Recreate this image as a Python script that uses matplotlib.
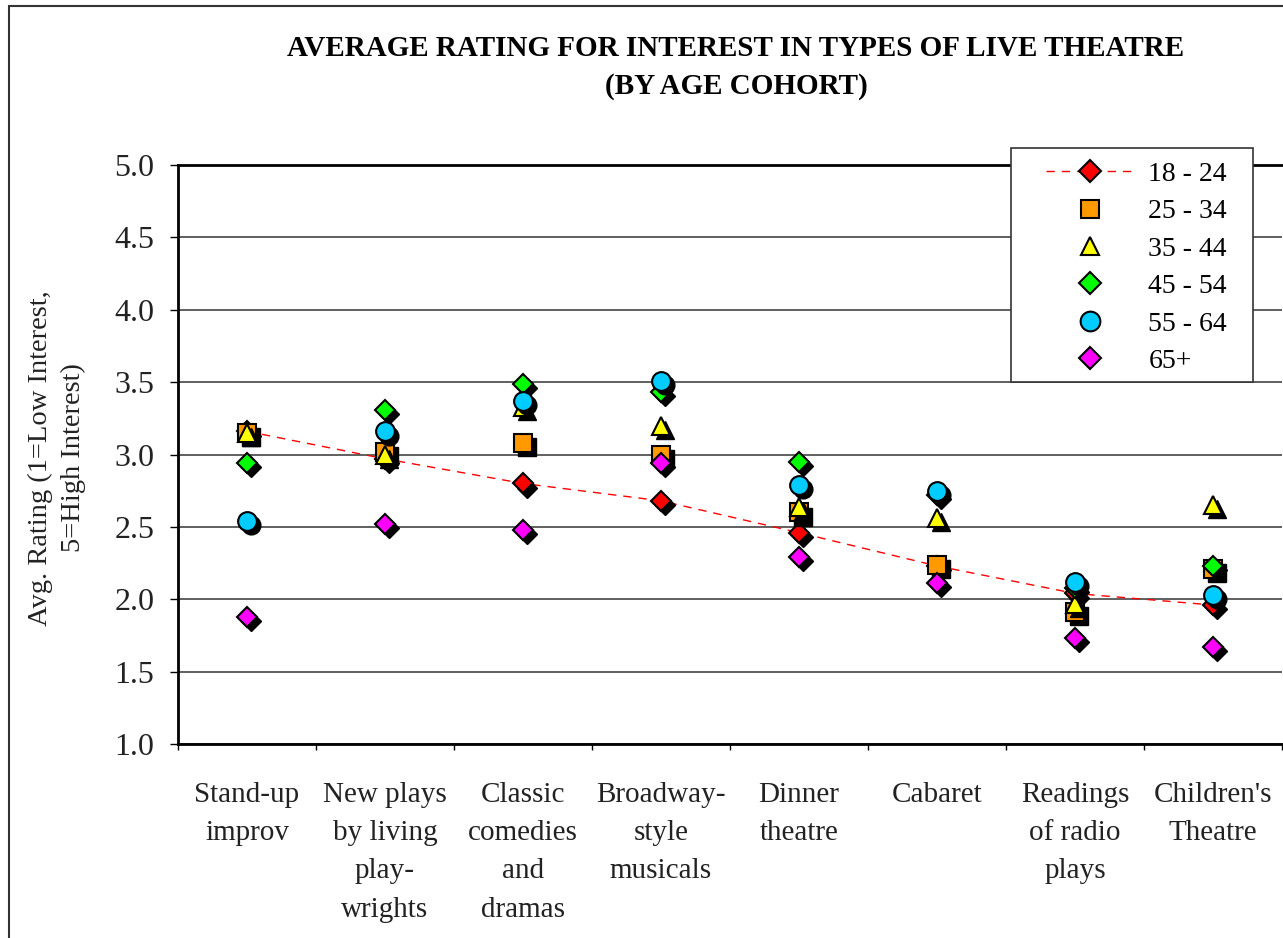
import numpy as np
import matplotlib
matplotlib.use("Agg")
import matplotlib.pyplot as plt
from matplotlib import transforms
from matplotlib.patches import Rectangle

plt.rcParams['font.family'] = ['Liberation Serif', 'DejaVu Serif']

# data
categories = ["Stand-up\nimprov", "New plays\nby living\nplay-\nwrights",
              "Classic\ncomedies\nand\ndramas", "Broadway-\nstyle\nmusicals",
              "Dinner\ntheatre", "Cabaret", "Readings\nof radio\nplays",
              "Children's\nTheatre"]
cohorts = ["18 - 24", "25 - 34", "35 - 44", "45 - 54", "55 - 64", "65+"]
age_18_24 = [3.16, 2.97, 2.80, 2.68, 2.46, 2.23, 2.04, 1.96]
age_25_34 = [3.15, 3.02, 3.08, 3.00, 2.60, 2.24, 1.91, 2.21]
age_35_44 = [3.15, 3.00, 3.33, 3.20, 2.64, 2.56, 1.97, 2.65]
age_45_54 = [2.94, 3.31, 3.49, 3.43, 2.95, 2.72, 2.08, 2.23]
age_55_64 = [2.54, 3.16, 3.37, 3.51, 2.79, 2.75, 2.12, 2.03]
age_65_up = [1.88, 2.52, 2.48, 2.94, 2.29, 2.11, 1.73, 1.67]

series = [age_18_24, age_25_34, age_35_44, age_45_54, age_55_64, age_65_up]
markers = ['D', 's', '^', 'D', 'o', 'D']
colors = ['#ff0000', '#ff9900', '#ffff00', '#00ff00', '#00ccff', '#ff00ff']
sizes = [10.5, 13, 13, 10.5, 13.5, 10.5]

fig = plt.figure(figsize=(12.83, 9.38), dpi=100)
ax = fig.add_axes([178/1283, 1-744/938, 1104/1283, 579/938])

# outer chart border (cut off on right/bottom)
fig.patches.append(Rectangle((9/1283, -0.1), 1.2, 1-6/938+0.1, transform=fig.transFigure,
                             fill=False, edgecolor='#333333', linewidth=1.5, zorder=0))

x = np.arange(len(categories))
shadow = transforms.offset_copy(ax.transData, fig=fig, x=3, y=-3, units='points')

for i, vals in enumerate(series):
    ax.plot(x, vals, linestyle='none', marker=markers[i], markersize=sizes[i],
            color='black', markeredgecolor='black', transform=shadow, zorder=3+i)
    ax.plot(x, vals, linestyle='none', marker=markers[i], markersize=sizes[i],
            markerfacecolor=colors[i], markeredgecolor='black', markeredgewidth=1.5,
            zorder=3.5+i)

# dashed trend through 18-24
ax.plot(x, age_18_24, linestyle=(0, (6, 5)), color='#ff0000', linewidth=1, zorder=2.5)

# legend, frame drawn by hand
fig.patches.append(Rectangle((1011/1283, 1-382/938), 242/1283, 234/938,
                             transform=fig.transFigure, facecolor='white',
                             edgecolor='#333333', linewidth=1.2, zorder=19))
handles = []
for i in range(6):
    h, = ax.plot([], [], linestyle=(0, (6, 5)) if i == 0 else 'none', color='#ff0000',
                 linewidth=1, marker=markers[i], markersize=sizes[i] * 1.05,
                 markerfacecolor=colors[i], markeredgecolor='black', markeredgewidth=1.5)
    handles.append(h)
leg = fig.legend(handles, cohorts, loc='upper left', bbox_to_anchor=(1040/1283, 1-156/938),
                 fontsize=20, frameon=False, handlelength=3.2, handletextpad=0.5,
                 labelspacing=0.43, borderpad=0.2, borderaxespad=0)
leg.set_zorder(20)

ax.set_xlim(-0.5, len(categories) - 0.5)
ax.set_ylim(1.0, 5.0)
ax.set_yticks(np.arange(1.0, 5.01, 0.5))
ax.set_yticklabels(["%.1f" % v for v in np.arange(1.0, 5.01, 0.5)], fontsize=23, color='#222222')
ax.yaxis.grid(True, color='#444444', linewidth=1.2)
ax.set_axisbelow(True)
ax.tick_params(axis='y', length=6, width=1, direction='out', pad=11)

ax.set_xticks(x)
ax.set_xticklabels(categories, fontsize=21, linespacing=1.62, color='#222222')
ax.tick_params(axis='x', which='major', length=0, pad=27)
ax.set_xticks(np.arange(-0.5, len(categories) + 0.5, 1), minor=True)
ax.tick_params(axis='x', which='minor', length=4.5, width=1, direction='out')

for s in ['left', 'bottom', 'top']:
    ax.spines[s].set_linewidth(2)
    ax.spines[s].set_color('black')
ax.spines['right'].set_visible(False)

fig.text(736/1283, 1-48/938, "AVERAGE RATING FOR INTEREST IN TYPES OF LIVE THEATRE",
         ha='center', va='center', fontsize=21, fontweight='bold')
fig.text(736/1283, 1-86/938, "(BY AGE COHORT)",
         ha='center', va='center', fontsize=21, fontweight='bold')
fig.text(57/1283, 1-458/938, "Avg. Rating (1=Low Interest,\n5=High Interest)",
         rotation=90, ha='center', va='center', multialignment='center',
         fontsize=20.5, color='#222222', linespacing=1.43)

fig.savefig("out.png", dpi=100)
